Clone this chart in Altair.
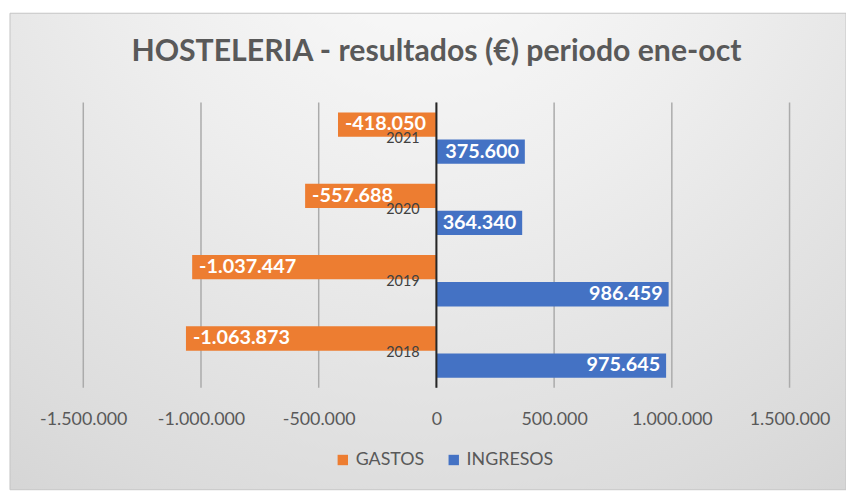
import altair as alt
import pandas as pd

years = ["2021", "2020", "2019", "2018"]
gastos = [-418050, -557688, -1037447, -1063873]
ingresos = [375600, 364340, 986459, 975645]
series_names = ["GASTOS", "INGRESOS"]
series_colors = ["#ED7D31", "#4472C4"]
tick_values = [-1500000, -1000000, -500000, 0, 500000, 1000000, 1500000]
title_text = "HOSTELERIA - resultados (€) periodo ene-oct"


def fmt(v):
    return f"{v:,}".replace(",", ".")


rows = []
for y, g, i in zip(years, gastos, ingresos):
    rows.append({"year": y, "series": "GASTOS", "value": g, "label": fmt(g)})
    rows.append({"year": y, "series": "INGRESOS", "value": i, "label": fmt(i)})
df = pd.DataFrame(rows)
df_years = pd.DataFrame({"year": years, "zero": [0] * len(years)})
df_ticks = pd.DataFrame({"v": tick_values})
df_zero = pd.DataFrame({"z": [0]})
df_bg = pd.DataFrame({"a": [0]})

FONT = "Lato"
W, H = 713, 288
PAD = {"left": 76, "top": 93, "right": 57, "bottom": 103}

xscale = alt.Scale(domain=[tick_values[0], tick_values[-1]], nice=False)
yscale = alt.Scale(paddingInner=0.28, paddingOuter=0.14)
label_expr = ("datum.value == 0 ? '0' : (datum.value < 0 ? '-' : '') + "
              "replace(format(abs(datum.value), ','), regexp(',', 'g'), '.')")

xenc = alt.X("value:Q", scale=xscale,
             axis=alt.Axis(values=tick_values, labelExpr=label_expr, grid=False,
                           domain=False, ticks=False, tickSize=0, labelPadding=23,
                           labelOverlap=False, labelFlush=False,
                           labelFont=FONT, labelFontSize=18, labelColor="#595959",
                           title=None, zindex=1))
yenc = alt.Y("year:N", sort=years, scale=yscale, axis=None)
yoff = alt.YOffset("series:N", sort=series_names, scale=alt.Scale(paddingInner=0.1))

bg = alt.Chart(df_bg).mark_rect(
    color={"gradient": "radial",
           "x1": 0.5, "y1": 0.05, "r1": 0,
           "x2": 0.5, "y2": 0.05, "r2": 1.1,
           "stops": [{"offset": 0, "color": "#fdfdfd"},
                     {"offset": 0.35, "color": "#eeeeee"},
                     {"offset": 0.7, "color": "#dcdcdc"},
                     {"offset": 1, "color": "#cacaca"}]},
    stroke="#c4c4c4", strokeWidth=1,
).encode(
    x=alt.value(-PAD["left"] + 2), x2=alt.value(W + PAD["right"]),
    y=alt.value(-PAD["top"] + 3), y2=alt.value(H + PAD["bottom"]),
)

grid = alt.Chart(df_ticks).mark_rule(color="#ababab", strokeWidth=1.5).encode(
    x=alt.X("v:Q", scale=xscale)
)

bars = alt.Chart(df).mark_bar().encode(
    x=xenc,
    y=yenc,
    yOffset=yoff,
    color=alt.Color("series:N", sort=series_names,
                    scale=alt.Scale(domain=series_names, range=series_colors),
                    legend=alt.Legend(title=None, orient="none", direction="horizontal",
                                      legendX=253, legendY=352, symbolType="square",
                                      symbolSize=110, symbolStrokeWidth=0,
                                      labelFont=FONT, labelFontSize=18,
                                      labelColor="#595959", labelOffset=4,
                                      columnPadding=20, padding=0, zindex=1)),
)

zero = alt.Chart(df_zero).mark_rule(color="#262626", strokeWidth=2).encode(
    x=alt.X("z:Q", scale=xscale)
)

lab_neg = alt.Chart(df).transform_filter("datum.value < 0").mark_text(
    align="left", baseline="middle", dx=7, font=FONT, fontSize=20,
    fontWeight="bold", color="white"
).encode(x=alt.X("value:Q", scale=xscale), y=yenc, yOffset=yoff, text="label:N")

lab_pos = alt.Chart(df).transform_filter("datum.value >= 0").mark_text(
    align="right", baseline="middle", dx=-6, font=FONT, fontSize=20,
    fontWeight="bold", color="white"
).encode(x=alt.X("value:Q", scale=xscale), y=yenc, yOffset=yoff, text="label:N")

year_lab = alt.Chart(df_years).mark_text(
    align="right", baseline="middle", dx=-17, dy=1, font=FONT, fontSize=14.5,
    color="#404040"
).encode(x=alt.X("zero:Q", scale=xscale), y=yenc, text="year:N")

chart = alt.layer(bg, grid, bars, zero, lab_neg, lab_pos, year_lab).properties(
    width=W, height=H, padding=PAD,
    autosize=alt.AutoSizeParams(type="none"),
    title=alt.Title(title_text, font=FONT, fontSize=30.5, fontWeight="bold",
                    color="#595959", anchor="middle", frame="group",
                    baseline="bottom", offset=-85, zindex=1),
).configure_view(strokeWidth=0).configure(background="white")

chart.save("out.html", embed_options={"renderer": "svg", "actions": False})
